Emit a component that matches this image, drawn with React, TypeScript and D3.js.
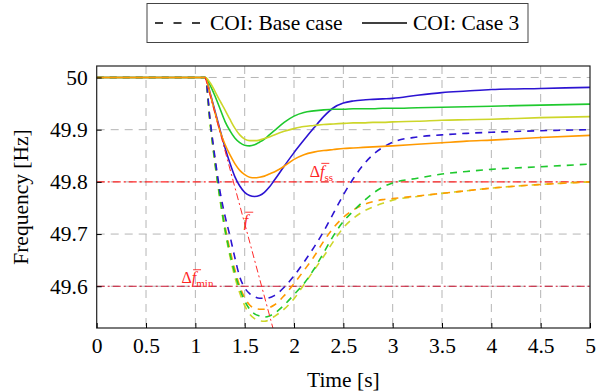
import React, { useRef, useEffect } from "react";
import * as d3 from "d3";

// sample times [s], shared by every series
const time = [0, 1.1, 1.15, 1.2, 1.25, 1.3, 1.35, 1.4, 1.45, 1.5, 1.55, 1.6, 1.65, 1.7, 1.75, 1.8, 1.9, 2.0, 2.1, 2.2, 2.3, 2.4, 2.5, 2.6, 2.7, 2.8, 2.9, 3.0, 3.25, 3.5, 3.75, 4.0, 4.5, 5.0];

// base case (dashed)
const baseBlue = [50, 50, 49.918, 49.845, 49.782, 49.735, 49.697, 49.655, 49.618, 49.597, 49.586, 49.58, 49.577, 49.577, 49.578, 49.582, 49.598, 49.62, 49.646, 49.674, 49.705, 49.74, 49.775, 49.806, 49.832, 49.852, 49.866, 49.876, 49.886, 49.89, 49.893, 49.895, 49.898, 49.9];
const baseGreen = [50, 50, 49.912, 49.835, 49.768, 49.71, 49.663, 49.625, 49.595, 49.572, 49.556, 49.547, 49.543, 49.541, 49.543, 49.548, 49.564, 49.584, 49.605, 49.632, 49.664, 49.697, 49.724, 49.744, 49.762, 49.778, 49.79, 49.798, 49.807, 49.815, 49.82, 49.824, 49.829, 49.834];
const baseYellow = [50, 50, 49.91, 49.832, 49.765, 49.706, 49.658, 49.618, 49.587, 49.563, 49.547, 49.538, 49.534, 49.533, 49.536, 49.542, 49.556, 49.576, 49.603, 49.63, 49.657, 49.686, 49.712, 49.73, 49.743, 49.752, 49.759, 49.765, 49.772, 49.778, 49.783, 49.788, 49.795, 49.8];
const baseOrange = [50, 50, 49.915, 49.84, 49.772, 49.716, 49.67, 49.632, 49.6, 49.578, 49.564, 49.558, 49.556, 49.556, 49.559, 49.564, 49.582, 49.605, 49.63, 49.656, 49.686, 49.712, 49.732, 49.746, 49.756, 49.762, 49.766, 49.768, 49.773, 49.778, 49.783, 49.788, 49.795, 49.8];

// case 3 (solid)
const c3Blue = [50, 50, 49.97, 49.935, 49.9, 49.866, 49.836, 49.81, 49.792, 49.78, 49.774, 49.772, 49.774, 49.78, 49.79, 49.803, 49.83, 49.856, 49.88, 49.903, 49.925, 49.942, 49.951, 49.955, 49.957, 49.958, 49.959, 49.96, 49.966, 49.971, 49.974, 49.977, 49.979, 49.981];
const c3Green = [50, 50, 49.985, 49.964, 49.94, 49.916, 49.898, 49.884, 49.875, 49.87, 49.869, 49.871, 49.876, 49.882, 49.89, 49.898, 49.914, 49.926, 49.933, 49.936, 49.938, 49.939, 49.939, 49.94, 49.94, 49.94, 49.941, 49.941, 49.942, 49.943, 49.944, 49.945, 49.947, 49.949];
const c3Yellow = [50, 50, 49.99, 49.973, 49.955, 49.938, 49.92, 49.903, 49.89, 49.882, 49.879, 49.879, 49.88, 49.883, 49.886, 49.89, 49.897, 49.902, 49.906, 49.908, 49.91, 49.911, 49.912, 49.913, 49.913, 49.914, 49.914, 49.915, 49.916, 49.918, 49.919, 49.92, 49.923, 49.925];
const c3Orange = [50, 50, 49.968, 49.932, 49.897, 49.872, 49.852, 49.835, 49.822, 49.814, 49.809, 49.808, 49.809, 49.811, 49.815, 49.819, 49.83, 49.843, 49.852, 49.857, 49.86, 49.862, 49.864, 49.865, 49.866, 49.867, 49.868, 49.869, 49.872, 49.875, 49.878, 49.88, 49.885, 49.889];

// COI rate of change line (f bar)
const rocofT = [1.1, 1.786];
const rocofF = [50, 49.52];
const fSteadyState = 49.8;
const fMinimum = 49.6;

const xTicks = [0, 0.5, 1, 1.5, 2, 2.5, 3, 3.5, 4, 4.5, 5];
const yTicks = [49.6, 49.7, 49.8, 49.9, 50];
const legendLabels = ["COI: Base case", "COI: Case 3"];

const BLUE = "#2c14d2";
const GREEN = "#1fc92e";
const YELLOW = "#cdd62a";
const ORANGE = "#ff9a00";
const RED = "#ff2424";

const W = 597;
const H = 391;
const margin = { left: 96.7, right: 7, top: 66, bottom: 63 };
const FONT = "'Liberation Serif', 'Times New Roman', serif";
const FS = 21.5;

// a Δf̄ label with a subscript; the bar over f is drawn as a small line
function DeltaF({ px, py, sub }: { px: number; py: number; sub?: string }) {
  return (
    <g fill={RED}>
      <text x={px} y={py} fontSize={16} fontFamily={FONT}>
        {sub ? "Δ" : ""}
        <tspan fontStyle="italic">f</tspan>
        {sub ? (
          <tspan fontSize={11} dy={4}>
            {sub}
          </tspan>
        ) : null}
      </text>
      <line
        x1={px + (sub ? 11.5 : 1.5)}
        x2={px + (sub ? 19.5 : 9.5)}
        y1={py - 13.5}
        y2={py - 13.5}
        stroke={RED}
        strokeWidth={0.9}
      />
    </g>
  );
}

function App() {
  const xAxisRef = useRef<SVGGElement>(null);
  const yAxisRef = useRef<SVGGElement>(null);

  const x = d3.scaleLinear().domain([0, 5]).range([margin.left, W - margin.right]);
  const y = d3.scaleLinear().domain([49.52, 50.022]).range([H - margin.bottom, margin.top]);

  const line = d3
    .line<number>()
    .x((_, i) => x(time[i]))
    .y((d) => y(d))
    .curve(d3.curveMonotoneX);

  const dashed = [
    { v: baseYellow, c: YELLOW },
    { v: baseOrange, c: ORANGE },
    { v: baseGreen, c: GREEN },
    { v: baseBlue, c: BLUE },
  ];
  const solid = [
    { v: c3Blue, c: BLUE },
    { v: c3Green, c: GREEN },
    { v: c3Yellow, c: YELLOW },
    { v: c3Orange, c: ORANGE },
  ];

  useEffect(() => {
    const gx = d3.select(xAxisRef.current);
    gx.call(
      d3.axisBottom(x).tickValues(xTicks).tickSize(-5).tickSizeOuter(0).tickPadding(10).tickFormat((d) => String(d))
    );
    gx.select(".domain").remove();
    gx.attr("font-family", FONT).attr("font-size", FS);
    gx.selectAll("text").attr("fill", "#000");

    const gy = d3.select(yAxisRef.current);
    gy.call(
      d3.axisLeft(y).tickValues(yTicks).tickSize(-5).tickSizeOuter(0).tickPadding(9).tickFormat((d) => String(d))
    );
    gy.select(".domain").remove();
    gy.attr("font-family", FONT).attr("font-size", FS);
    gy.selectAll("text").attr("fill", "#000");
  }, []);

  const x0 = x(0), x1 = x(5), yb = y(49.52), yt = y(50.022);

  return (
    <svg width={W} height={H} style={{ position: "absolute", left: 0, top: 0, background: "#fff" }}>
      <defs>
        <clipPath id="plot">
          <rect x={x0} y={yt} width={x1 - x0} height={yb - yt} />
        </clipPath>
      </defs>

      {/* grid */}
      {xTicks.slice(1, -1).map((t) => (
        <line key={"gx" + t} x1={x(t)} x2={x(t)} y1={yt} y2={yb} stroke="#b5b5b5" strokeDasharray="8,6" />
      ))}
      {yTicks.map((f) => (
        <line key={"gy" + f} x1={x0} x2={x1} y1={y(f)} y2={y(f)} stroke="#b5b5b5" strokeDasharray="8,6" />
      ))}

      <g clipPath="url(#plot)">
        {/* reference lines */}
        <line x1={x0} x2={x1} y1={y(fSteadyState)} y2={y(fSteadyState)} stroke={RED} strokeWidth={1.3} strokeDasharray="8,3,2,3" />
        <line x1={x0} x2={x1} y1={y(fMinimum)} y2={y(fMinimum)} stroke="#c8102e" strokeWidth={1.1} strokeDasharray="8,3,2,3" />

        {dashed.map((s, i) => (
          <path key={"d" + i} d={line(s.v) || ""} fill="none" stroke={s.c} strokeWidth={1.6} strokeDasharray="7,6" />
        ))}
        {solid.map((s, i) => (
          <path key={"s" + i} d={line(s.v) || ""} fill="none" stroke={s.c} strokeWidth={1.6} />
        ))}

        <line x1={x(rocofT[0])} y1={y(rocofF[0])} x2={x(rocofT[1])} y2={y(rocofF[1])} stroke="#ff2a2a" strokeWidth={1} strokeDasharray="7,3,2,3" />
      </g>

      {/* annotations */}
      <DeltaF px={x(2.16)} py={y(fSteadyState) - 5} sub="ss" />
      <DeltaF px={x(0.86)} py={y(fMinimum) - 3} sub="min" />
      <DeltaF px={x(1.49)} py={y(49.716)} />

      {/* frame */}
      <rect x={x0} y={yt} width={x1 - x0} height={yb - yt} fill="none" stroke="#222" strokeWidth={1.2} />

      <g ref={xAxisRef} transform={`translate(0,${yb})`} />
      <g ref={yAxisRef} transform={`translate(${x0},0)`} />

      <text x={(x0 + x1) / 2} y={386.5} textAnchor="middle" fontSize={FS} fontFamily={FONT}>
        Time [s]
      </text>
      <text transform={`translate(28,${(yt + yb) / 2}) rotate(-90)`} textAnchor="middle" fontSize={FS} fontFamily={FONT}>
        Frequency [Hz]
      </text>

      {/* legend */}
      <rect x={147} y={3.5} width={381} height={39} fill="#fff" stroke="#444" strokeWidth={1} />
      <line x1={155} x2={200} y1={23} y2={23} stroke="#000" strokeWidth={1.3} strokeDasharray="8,10.5" />
      <text x={210} y={29.5} fontSize={FS} fontFamily={FONT}>
        {legendLabels[0]}
      </text>
      <line x1={362} x2={407} y1={23} y2={23} stroke="#000" strokeWidth={1.3} />
      <text x={413} y={29.5} fontSize={FS} fontFamily={FONT}>
        {legendLabels[1]}
      </text>
    </svg>
  );
}

export default App;
